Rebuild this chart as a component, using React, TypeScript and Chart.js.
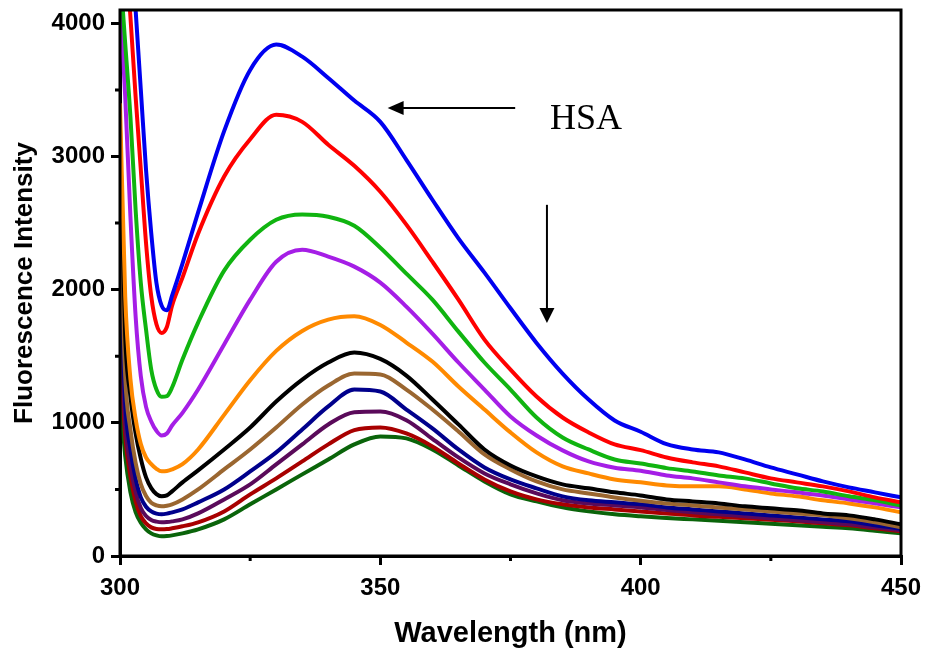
import React, { useEffect, useRef } from 'react';
import { Chart, registerables } from 'chart.js';

Chart.register(...registerables);

// ---------- data ----------
const wavelengths = [300, 301, 302, 303, 304, 305, 306, 307, 308, 309, 310, 312, 315, 320, 325, 330, 335, 340, 345, 350, 355, 360, 365, 370, 375, 380, 385, 390, 395, 400, 405, 410, 415, 420, 425, 430, 435, 440, 445, 450];

const seriesBlue = [5900, 5300, 4700, 4100, 3500, 2900, 2425, 2050, 1880, 1845, 1955, 2195, 2580, 3190, 3650, 3840, 3750, 3590, 3420, 3260, 2975, 2675, 2385, 2128, 1860, 1600, 1370, 1175, 1018, 933, 840, 800, 778, 725, 665, 613, 560, 515, 478, 440];
const seriesRed = [5100, 4600, 4050, 3450, 2900, 2350, 1950, 1740, 1675, 1720, 1880, 2090, 2420, 2850, 3130, 3313, 3260, 3088, 2930, 2735, 2488, 2210, 1925, 1625, 1400, 1198, 1040, 928, 838, 795, 740, 703, 673, 628, 583, 553, 523, 485, 440, 403];
const seriesGreen = [4400, 3850, 3300, 2600, 2050, 1700, 1400, 1250, 1195, 1200, 1265, 1475, 1753, 2143, 2375, 2525, 2565, 2548, 2480, 2315, 2120, 1925, 1685, 1453, 1250, 1040, 890, 800, 725, 695, 660, 635, 605, 583, 545, 508, 485, 448, 418, 380];
const seriesViolet = [4200, 3450, 2550, 1800, 1350, 1120, 1010, 940, 905, 920, 980, 1075, 1250, 1588, 1925, 2210, 2300, 2248, 2173, 2053, 1873, 1670, 1453, 1250, 1048, 905, 793, 710, 663, 640, 605, 583, 553, 523, 500, 478, 455, 425, 395, 365];
const seriesOrange = [3400, 1950, 1330, 1030, 840, 740, 690, 655, 636, 638, 650, 690, 800, 1060, 1320, 1540, 1690, 1775, 1800, 1735, 1603, 1460, 1273, 1100, 928, 778, 673, 620, 575, 553, 530, 523, 523, 500, 470, 448, 418, 395, 365, 328];
const seriesBlack = [3200, 1650, 1200, 920, 730, 590, 510, 465, 448, 455, 485, 553, 643, 800, 965, 1160, 1325, 1453, 1528, 1480, 1355, 1175, 988, 800, 680, 598, 538, 508, 478, 455, 425, 410, 395, 373, 358, 343, 320, 305, 275, 238];
const seriesBrown = [2700, 1350, 950, 700, 540, 450, 400, 380, 373, 378, 388, 425, 500, 650, 800, 965, 1138, 1280, 1370, 1363, 1250, 1100, 935, 763, 650, 560, 500, 470, 440, 415, 395, 380, 365, 350, 335, 320, 305, 283, 253, 215];
const seriesNavy = [2300, 1150, 800, 580, 440, 370, 335, 318, 313, 318, 328, 350, 403, 500, 635, 778, 950, 1123, 1250, 1235, 1100, 958, 800, 665, 575, 508, 448, 418, 403, 388, 365, 350, 335, 320, 305, 290, 275, 260, 230, 205];
const seriesPlum = [1900, 1000, 680, 480, 360, 300, 270, 258, 253, 255, 260, 275, 320, 425, 538, 688, 838, 988, 1080, 1085, 1020, 880, 740, 620, 538, 470, 418, 395, 380, 365, 345, 328, 313, 298, 283, 268, 253, 238, 215, 193];
const seriesDarkRed = [1600, 900, 600, 410, 300, 245, 215, 203, 200, 202, 208, 223, 253, 335, 463, 583, 710, 838, 945, 965, 920, 823, 695, 575, 485, 425, 388, 365, 350, 335, 320, 305, 294, 283, 272, 260, 245, 230, 208, 185];
const seriesDarkGreen = [1250, 750, 480, 330, 250, 200, 170, 155, 148, 150, 155, 170, 200, 275, 388, 500, 613, 725, 838, 898, 883, 800, 680, 560, 463, 410, 365, 335, 313, 298, 286, 275, 264, 253, 242, 230, 219, 208, 190, 170];

const seriesList = [seriesBlue, seriesRed, seriesGreen, seriesViolet, seriesOrange, seriesBlack, seriesBrown, seriesNavy, seriesPlum, seriesDarkRed, seriesDarkGreen];
const seriesColors = ['#0000f0', '#ff0000', '#10b410', '#a51ee6', '#ff8a00', '#000000', '#9a6630', '#00008c', '#5a0a5a', '#a80000', '#0a640a'];

const xMajorTicks = [300, 350, 400, 450];
const xMinorTicks = [325, 375, 425];
const yMajorTicks = [0, 1000, 2000, 3000, 4000];
const yMinorTicks = [500, 1500, 2500, 3500];

const xTitle = 'Wavelength (nm)';
const yTitle = 'Fluorescence Intensity';

// annotations in data coordinates
const hsaArrow = { fromX: 375.9, toX: 351.4, y: 3365 };
const downArrow = { x: 382, fromY: 2637, toY: 1750 };
const hsaLabel = { text: 'HSA', x: 382.6, y: 3208 };

const SANS = '"Liberation Sans", Arial, sans-serif';

const decorPlugin = {
  id: 'decor',
  afterDatasetsDraw(chart: any) {
    const { ctx, chartArea: a, scales } = chart;
    const x = scales.x;
    const y = scales.y;
    ctx.save();
    ctx.strokeStyle = '#000';
    ctx.lineWidth = 3;
    ctx.strokeRect(a.left, a.top, a.right - a.left, a.bottom - a.top);
    // minor ticks
    ctx.beginPath();
    for (const v of yMinorTicks) {
      const py = y.getPixelForValue(v);
      ctx.moveTo(a.left - 5, py);
      ctx.lineTo(a.left, py);
    }
    for (const v of xMinorTicks) {
      const px = x.getPixelForValue(v);
      ctx.moveTo(px, a.bottom);
      ctx.lineTo(px, a.bottom + 5);
    }
    ctx.stroke();

    ctx.fillStyle = '#000';
    ctx.lineWidth = 2;
    // horizontal arrow
    const hx1 = x.getPixelForValue(hsaArrow.fromX);
    const hx2 = x.getPixelForValue(hsaArrow.toX);
    const hy = y.getPixelForValue(hsaArrow.y);
    ctx.beginPath();
    ctx.moveTo(hx1, hy);
    ctx.lineTo(hx2 + 14, hy);
    ctx.stroke();
    ctx.beginPath();
    ctx.moveTo(hx2, hy);
    ctx.lineTo(hx2 + 16, hy - 7);
    ctx.lineTo(hx2 + 16, hy + 7);
    ctx.closePath();
    ctx.fill();
    // vertical arrow
    const vx = x.getPixelForValue(downArrow.x);
    const vy1 = y.getPixelForValue(downArrow.fromY);
    const vy2 = y.getPixelForValue(downArrow.toY);
    ctx.beginPath();
    ctx.moveTo(vx, vy1);
    ctx.lineTo(vx, vy2 - 12);
    ctx.stroke();
    ctx.beginPath();
    ctx.moveTo(vx, vy2);
    ctx.lineTo(vx - 7.5, vy2 - 15);
    ctx.lineTo(vx + 7.5, vy2 - 15);
    ctx.closePath();
    ctx.fill();
    // HSA label
    ctx.font = '36px "Liberation Serif", "Times New Roman", serif';
    ctx.textAlign = 'left';
    ctx.textBaseline = 'alphabetic';
    ctx.fillText(hsaLabel.text, x.getPixelForValue(hsaLabel.x), y.getPixelForValue(hsaLabel.y));
    ctx.restore();
  },
};

export default function App() {
  const canvasRef = useRef<HTMLCanvasElement | null>(null);

  useEffect(() => {
    const canvas = canvasRef.current;
    if (!canvas) return;
    const datasets = seriesList.map((s, i) => ({
      label: 'S' + i,
      data: wavelengths.map((w, j) => ({ x: w, y: s[j] })),
      borderColor: seriesColors[i],
      backgroundColor: seriesColors[i],
      borderWidth: 4,
      pointRadius: 0,
      fill: false,
      cubicInterpolationMode: 'monotone' as const,
      clip: 0,
    }));

    const chart = new Chart(canvas, {
      type: 'line',
      data: { datasets },
      options: {
        animation: false,
        responsive: false,
        events: [],
        layout: { padding: { left: 0, right: 28, top: 10, bottom: 0 } },
        plugins: { legend: { display: false }, tooltip: { enabled: false } },
        scales: {
          x: {
            type: 'linear',
            min: 300,
            max: 450,
            afterBuildTicks: (scale: any) => {
              scale.ticks = xMajorTicks.map((v) => ({ value: v }));
            },
            afterFit: (scale: any) => {
              scale.height = 105;
              scale.paddingLeft = 0;
              scale.paddingRight = 0;
            },
            ticks: {
              stepSize: 50,
              padding: 9,
              color: '#000',
              font: { family: SANS, weight: 'bold', size: 24 },
              callback: (v: any) => String(v),
              maxRotation: 0,
            },
            grid: {
              display: true,
              drawOnChartArea: false,
              drawTicks: true,
              tickLength: 9,
              tickWidth: 3,
              lineWidth: 3,
              tickColor: '#000',
              color: '#000',
            },
            border: { display: true, color: '#000', width: 3 },
            title: {
              display: true,
              text: xTitle,
              color: '#000',
              font: { family: SANS, weight: 'bold', size: 29 },
              padding: { top: 0, bottom: 10 },
            },
          },
          y: {
            type: 'linear',
            min: 0,
            max: 4100,
            afterBuildTicks: (scale: any) => {
              scale.ticks = yMajorTicks.map((v) => ({ value: v }));
            },
            afterFit: (scale: any) => {
              scale.width = 120;
              scale.paddingTop = 0;
              scale.paddingBottom = 0;
            },
            ticks: {
              stepSize: 1000,
              padding: 6,
              color: '#000',
              font: { family: SANS, weight: 'bold', size: 24 },
              callback: (v: any) => String(v),
            },
            grid: {
              display: true,
              drawOnChartArea: false,
              drawTicks: true,
              tickLength: 9,
              tickWidth: 3,
              lineWidth: 3,
              tickColor: '#000',
              color: '#000',
            },
            border: { display: true, color: '#000', width: 3 },
            title: {
              display: true,
              text: yTitle,
              color: '#000',
              font: { family: SANS, weight: 'bold', size: 26 },
              padding: { top: 9, bottom: 0 },
            },
          },
        },
      },
      plugins: [decorPlugin],
    } as any);
    return () => chart.destroy();
  }, []);

  return (
    <div style={{ position: 'absolute', left: 0, top: 0, width: 929, height: 661, background: '#fff' }}>
      <canvas ref={canvasRef} width={929} height={661} style={{ display: 'block' }} />
    </div>
  );
}
